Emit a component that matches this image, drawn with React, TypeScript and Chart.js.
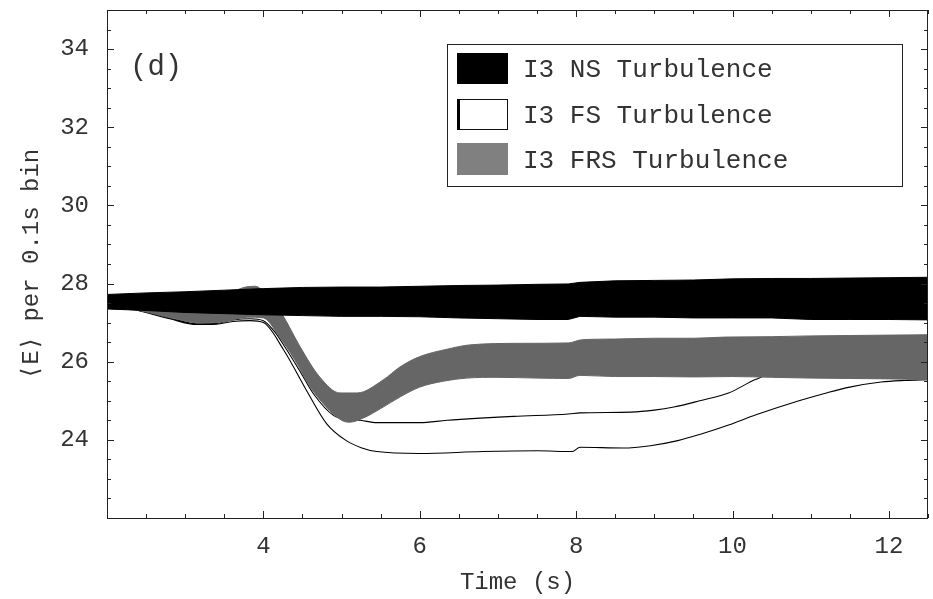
import React, { useEffect, useRef } from "react";
import { Chart, registerables } from "chart.js";

Chart.register(...registerables);

const FONT = "'Liberation Mono', 'DejaVu Sans Mono', monospace";

const seriesNames = ["I3 NS Turbulence", "I3 FS Turbulence", "I3 FRS Turbulence"];
const panelLabel = "(d)";
const xTitle = "Time (s)";
const yTitle = "\u27E8E\u27E9 per 0.1s bin";
const xTickValues = [4, 6, 8, 10, 12];
const yTickValues = [24, 26, 28, 30, 32, 34];

// NS band (black)
const nsTime = [2.0, 2.5, 3.0, 3.5, 4.0, 4.5, 5.0, 5.5, 6.0, 6.5, 7.0, 7.5, 7.9, 8.05, 8.5, 9.0, 9.5, 10.0, 10.5, 11.0, 11.5, 12.0, 12.5];
const nsUpper = [27.72, 27.76, 27.79, 27.83, 27.87, 27.9, 27.91, 27.91, 27.93, 27.95, 27.96, 27.98, 27.99, 28.03, 28.07, 28.08, 28.09, 28.12, 28.13, 28.13, 28.14, 28.15, 28.16];
const nsLower = [27.35, 27.31, 27.26, 27.23, 27.2, 27.18, 27.16, 27.16, 27.15, 27.12, 27.1, 27.08, 27.08, 27.16, 27.14, 27.14, 27.12, 27.12, 27.12, 27.08, 27.08, 27.08, 27.07];

// FRS band (grey)
const frsUpperTime = [2.0, 3.0, 3.5, 3.75, 3.9, 4.0, 4.15, 4.25, 4.47, 4.72, 4.98, 5.2, 5.53, 5.75, 6.0, 6.35, 6.64, 7.3, 7.9, 8.07, 8.5, 9.0, 9.5, 9.9, 10.5, 11.0, 11.5, 12.0, 12.5];
const frsUpper = [27.6, 27.6, 27.7, 27.9, 27.93, 27.8, 27.45, 27.18, 26.38, 25.61, 25.2, 25.2, 25.53, 25.87, 26.13, 26.32, 26.43, 26.47, 26.48, 26.56, 26.58, 26.6, 26.6, 26.63, 26.64, 26.66, 26.67, 26.68, 26.69];
const frsLowerTime = [2.0, 2.4, 2.8, 3.2, 3.5, 3.8, 4.0, 4.2, 4.4, 4.6, 4.8, 5.0, 5.1, 5.3, 5.5, 5.75, 6.0, 6.3, 6.6, 7.0, 7.5, 7.9, 8.05, 8.5, 9.0, 9.5, 10.0, 10.5, 11.0, 11.5, 12.0, 12.5];
const frsLower = [27.36, 27.31, 27.13, 26.99, 27.02, 27.14, 27.12, 26.65, 26.05, 25.35, 24.85, 24.5, 24.45, 24.58, 24.8, 25.1, 25.35, 25.5, 25.58, 25.6, 25.58, 25.57, 25.65, 25.62, 25.62, 25.61, 25.62, 25.6, 25.58, 25.57, 25.56, 25.54];

// FS band (outlined)
const fsUpperTime = [2.0, 2.4, 2.8, 3.15, 3.4, 3.61, 3.83, 4.0, 4.15, 4.3, 4.47, 4.64, 4.9, 5.1, 5.24, 5.45, 6.0, 6.35, 7.2, 7.9, 8.05, 8.7, 9.0, 9.25, 9.58, 9.95, 10.3, 10.5, 11.0, 12.5];
const fsUpper = [27.5, 27.32, 27.12, 26.97, 26.98, 27.07, 27.1, 27.05, 26.75, 26.3, 25.75, 25.18, 24.62, 24.52, 24.5, 24.44, 24.44, 24.5, 24.6, 24.66, 24.69, 24.71, 24.76, 24.84, 25.0, 25.2, 25.55, 25.68, 25.7, 25.68];
const fsLowerTime = [2.0, 2.4, 2.8, 3.15, 3.4, 3.61, 3.83, 4.0, 4.26, 4.55, 4.81, 5.06, 5.25, 5.45, 6.0, 6.8, 7.5, 7.95, 8.05, 8.6, 8.95, 9.3, 9.6, 9.95, 10.3, 10.85, 11.2, 11.5, 11.9, 12.2, 12.5];
const fsLower = [27.5, 27.31, 27.1, 26.95, 26.96, 27.03, 27.05, 27.0, 26.3, 25.27, 24.41, 23.98, 23.8, 23.7, 23.65, 23.7, 23.72, 23.7, 23.81, 23.79, 23.85, 23.98, 24.15, 24.38, 24.64, 25.0, 25.2, 25.35, 25.48, 25.52, 25.54];

const zip = (t: number[], v: number[]) => t.map((x, i) => ({ x, y: v[i] }));

const framePlugin = {
  id: "framePlugin",
  afterDatasetsDraw(chart: any) {
    const { ctx, chartArea } = chart;
    const xs = chart.scales.x;
    const ys = chart.scales.y;
    const { left, right, top, bottom } = chartArea;
    ctx.save();
    ctx.strokeStyle = "#222";
    ctx.lineWidth = 1;
    ctx.strokeRect(Math.round(left) + 0.5, Math.round(top) + 0.5, Math.round(right - left) - 1, Math.round(bottom - top));
    ctx.beginPath();
    for (let v = Math.ceil(xs.min * 2) / 2; v <= xs.max + 1e-9; v += 0.5) {
      const major = xTickValues.some((t) => Math.abs(t - v) < 1e-9);
      const len = major ? 7 : 4;
      const px = Math.round(xs.getPixelForValue(v)) + 0.5;
      ctx.moveTo(px, bottom);
      ctx.lineTo(px, bottom - len);
      ctx.moveTo(px, top);
      ctx.lineTo(px, top + len);
    }
    for (let v = Math.ceil(ys.min * 2) / 2; v <= ys.max + 1e-9; v += 0.5) {
      const major = yTickValues.some((t) => Math.abs(t - v) < 1e-9);
      const len = major ? 7 : 4;
      const py = Math.round(ys.getPixelForValue(v)) + 0.5;
      ctx.moveTo(left, py);
      ctx.lineTo(left + len, py);
      ctx.moveTo(right, py);
      ctx.lineTo(right - len, py);
    }
    ctx.stroke();
    ctx.restore();
  },
  afterDraw(chart: any) {
    const { ctx } = chart;
    ctx.save();
    // panel label
    ctx.fillStyle = "#333";
    ctx.font = `29px ${FONT}`;
    ctx.textBaseline = "alphabetic";
    ctx.textAlign = "left";
    ctx.fillText(panelLabel, 130, 75);
    // legend
    ctx.fillStyle = "#fff";
    ctx.fillRect(447, 44, 455, 142);
    ctx.strokeStyle = "#222";
    ctx.lineWidth = 1;
    ctx.strokeRect(447.5, 44.5, 455, 142);
    // swatches
    ctx.fillStyle = "#000";
    ctx.fillRect(457, 53, 51, 31);
    ctx.fillStyle = "#fff";
    ctx.fillRect(457, 99, 51, 31);
    ctx.strokeStyle = "#111";
    ctx.strokeRect(457.5, 99.5, 50, 30);
    ctx.fillStyle = "#000";
    ctx.fillRect(457, 99, 3, 31);
    ctx.fillStyle = "#808080";
    ctx.fillRect(457, 143, 51, 32);
    ctx.fillStyle = "#333";
    ctx.font = `26px ${FONT}`;
    const baselines = [77, 123, 167.5];
    seriesNames.forEach((name, i) => ctx.fillText(name, 523, baselines[i]));
    ctx.restore();
  },
};

export default function App() {
  const canvasRef = useRef<HTMLCanvasElement | null>(null);

  useEffect(() => {
    if (!canvasRef.current) return;
    const base = { pointRadius: 0, tension: 0, borderWidth: 1 };
    const smooth = { cubicInterpolationMode: "monotone" as const };
    const chart = new Chart(canvasRef.current, {
      type: "line",
      data: {
        datasets: [
          { ...base, label: seriesNames[0], data: zip(nsTime, nsUpper), borderColor: "#000", backgroundColor: "#000", fill: "+1" },
          { ...base, label: seriesNames[0] + " low", data: zip(nsTime, nsLower), borderColor: "#000", fill: false },
          { ...base, ...smooth, label: seriesNames[2], data: zip(frsUpperTime, frsUpper), borderColor: "#666", backgroundColor: "#666", fill: "+1" },
          { ...base, ...smooth, label: seriesNames[2] + " low", data: zip(frsLowerTime, frsLower), borderColor: "#666", fill: false },
          { ...base, ...smooth, label: seriesNames[1], data: zip(fsUpperTime, fsUpper), borderColor: "#000", borderWidth: 1.1, fill: false },
          { ...base, ...smooth, label: seriesNames[1] + " low", data: zip(fsLowerTime, fsLower), borderColor: "#000", borderWidth: 1.1, fill: false },
        ],
      },
      options: {
        responsive: false,
        animation: false,
        events: [],
        layout: { padding: { left: 0, right: 5, top: 10, bottom: 0 } },
        plugins: { legend: { display: false }, tooltip: { enabled: false } },
        scales: {
          x: {
            type: "linear",
            min: 2,
            max: 12.5,
            grid: { display: false, drawTicks: false },
            border: { display: false },
            afterBuildTicks: (s: any) => {
              s.ticks = xTickValues.map((v) => ({ value: v }));
            },
            afterFit: (s: any) => {
              s.height = 81;
              s.paddingLeft = 0;
              s.paddingRight = 0;
            },
            ticks: { font: { family: FONT, size: 24 }, color: "#333", padding: 14, maxRotation: 0, autoSkip: false },
            title: { display: true, text: xTitle, font: { family: FONT, size: 24 }, color: "#333", padding: { top: 0, bottom: 2 } },
          },
          y: {
            type: "linear",
            min: 22,
            max: 35,
            grid: { display: false, drawTicks: false },
            border: { display: false },
            afterBuildTicks: (s: any) => {
              s.ticks = yTickValues.map((v) => ({ value: v }));
            },
            afterFit: (s: any) => {
              s.width = 107;
              s.paddingTop = 0;
              s.paddingBottom = 0;
            },
            ticks: { font: { family: FONT, size: 24 }, color: "#333", padding: 18, autoSkip: false },
            title: { display: true, text: yTitle, font: { family: FONT, size: 24 }, color: "#333", padding: { top: 17.6, bottom: 0 } },
          },
        },
      },
      plugins: [framePlugin],
    });
    return () => chart.destroy();
  }, []);

  return (
    <div style={{ position: "absolute", left: 0, top: 0, width: 933, height: 599, background: "#fff" }}>
      <canvas ref={canvasRef} width={933} height={599} style={{ display: "block" }} />
    </div>
  );
}
